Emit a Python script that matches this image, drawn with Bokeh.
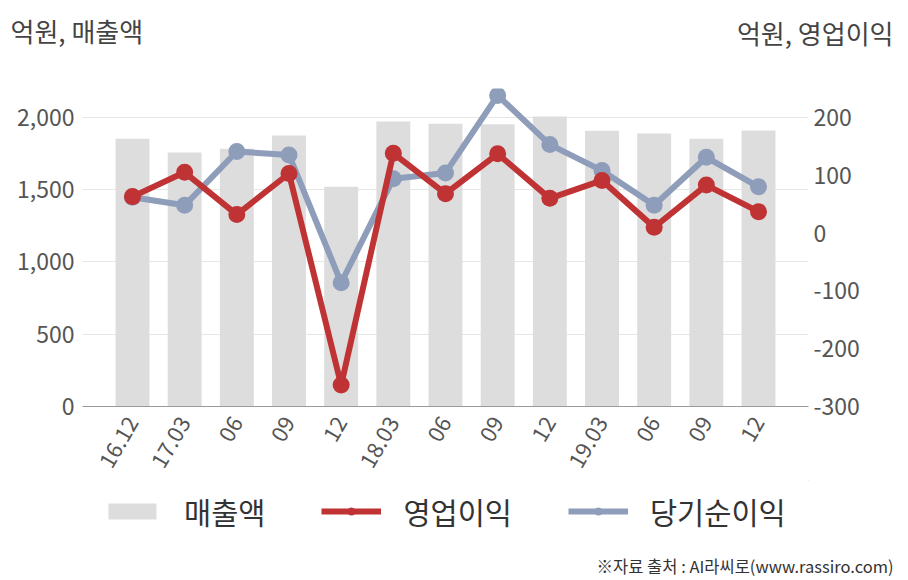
import math
from bokeh.plotting import figure
from bokeh.layouts import column
from bokeh.models import (Range1d, LinearAxis, FixedTicker, Label, Legend, LegendItem,
                          NumeralTickFormatter)
from bokeh.embed import file_html
from bokeh.resources import INLINE

# ---- data ----
periods = ["16.12", "17.03", "06", "09", "12", "18.03", "06", "09", "12", "19.03", "06", "09", "12"]
revenue = [1853, 1758, 1783, 1875, 1520, 1972, 1956, 1952, 2007, 1908, 1889, 1853, 1910]
op_profit = [63, 105, 32, 103, -263, 138, 68, 137, 60, 91, 10, 83, 37]
net_profit = [62, 48, 141, 135, -86, 94, 104, 238, 153, 108, 48, 131, 80]
left_ticks = [0, 500, 1000, 1500, 2000]
right_ticks = [-300, -200, -100, 0, 100, 200]
series_names = ["매출액", "영업이익", "당기순이익"]

idx = list(range(len(periods)))

FONT = "Noto Sans CJK KR"
RED = "#C03334"
BLUE = "#8E9DBA"
BAR = "#DDDDDD"
TXT = "#555555"

# ---------------- main chart ----------------
p = figure(width=908, height=480, output_backend="svg", toolbar_location=None,
           x_range=Range1d(-0.958, 12.958), y_range=Range1d(0, 2200),
           min_border_left=82, min_border_right=100, min_border_top=88, min_border_bottom=74)
p.extra_y_ranges = {"right": Range1d(-300, 250)}
p.outline_line_color = None

p.xgrid.visible = False
p.ygrid.grid_line_color = "#E6E6E6"
p.ygrid.ticker = FixedTicker(ticks=left_ticks)

ya = p.yaxis[0]
ya.ticker = FixedTicker(ticks=left_ticks)
ya.formatter = NumeralTickFormatter(format="0,0")
ya.axis_line_color = None
ya.major_tick_line_color = None
ya.minor_tick_line_color = None
ya.major_tick_out = 0
ya.minor_tick_out = 0
ya.major_label_text_font_size = "23px"
ya.major_label_text_color = TXT
ya.major_label_text_font = FONT
ya.major_label_standoff = 8

ra = LinearAxis(y_range_name="right", ticker=FixedTicker(ticks=right_ticks))
ra.major_label_overrides = {t: str(t) for t in right_ticks}
ra.axis_line_color = None
ra.major_tick_line_color = None
ra.minor_tick_line_color = None
ra.major_tick_out = 0
ra.minor_tick_out = 0
ra.major_label_text_font_size = "23px"
ra.major_label_text_color = TXT
ra.major_label_text_font = FONT
ra.major_label_standoff = 5
p.add_layout(ra, "right")

xa = p.xaxis[0]
xa.ticker = FixedTicker(ticks=idx)
xa.major_label_overrides = {i: s for i, s in zip(idx, periods)}
xa.major_label_orientation = math.pi / 3
xa.axis_line_color = "#9A9A9A"
xa.axis_line_width = 1
xa.major_tick_line_color = None
xa.minor_tick_line_color = None
xa.major_tick_out = 0
xa.minor_tick_out = 0
xa.major_label_text_font_size = "22px"
xa.major_label_text_color = TXT
xa.major_label_text_font = FONT
xa.major_label_standoff = 12

bars = p.vbar(x=idx, top=revenue, bottom=0, width=0.65, fill_color=BAR, line_color=None)
bl = p.line(idx, net_profit, y_range_name="right", line_width=6, line_color=BLUE)
bs = p.scatter(idx, net_profit, y_range_name="right", size=17, fill_color=BLUE, line_color=None)
rl = p.line(idx, op_profit, y_range_name="right", line_width=6, line_color=RED)
rs = p.scatter(idx, op_profit, y_range_name="right", size=17, fill_color=RED, line_color=None)

p.add_layout(Label(x=-72, y=58, x_units="screen", y_units="screen", text="억원, 매출액",
                   text_font_size="26px", text_baseline="middle", text_align="left",
                   text_color="#444444", text_font=FONT), "above")
p.add_layout(Label(x=811, y=19, x_units="screen", y_units="screen", text="억원, 영업이익",
                   text_font_size="26px", text_baseline="middle", text_align="right",
                   text_color="#444444", text_font=FONT), "above")

# ---------------- footer: legend + source ----------------
# legend proxies reuse the series, but the footer's ranges keep them out of view
f = figure(width=908, height=100, output_backend="svg", toolbar_location=None,
           x_range=Range1d(-2, -1), y_range=Range1d(-2, -1),
           min_border_left=82, min_border_right=100, min_border_top=0, min_border_bottom=40,
           x_axis_location=None, y_axis_location=None)
f.grid.visible = False
f.outline_line_color = None

k_bar = f.vbar(x=idx, top=revenue, bottom=0, width=0.65, fill_color=BAR, line_color=None)
k_rl = f.line(idx, op_profit, line_width=6, line_color=RED)
k_rs = f.scatter(idx, op_profit, size=17, fill_color=RED, line_color=None)
k_bl = f.line(idx, net_profit, line_width=6, line_color=BLUE)
k_bs = f.scatter(idx, net_profit, size=17, fill_color=BLUE, line_color=None)

legend = Legend(items=[LegendItem(label=series_names[0], renderers=[k_bar]),
                       LegendItem(label=series_names[1], renderers=[k_rl, k_rs]),
                       LegendItem(label=series_names[2], renderers=[k_bl, k_bs])],
                orientation="horizontal", location=(20, 8),
                glyph_width=60, glyph_height=20, label_standoff=22, spacing=56,
                padding=0, margin=0, border_line_color=None, background_fill_alpha=0,
                label_text_font_size="29.5px", label_text_color="#333333", label_text_font=FONT)
f.add_layout(legend, "center")

f.add_layout(Label(x=811, y=-1, x_units="screen", y_units="screen",
                   text="※자료 출처 : AI라씨로(www.rassiro.com)",
                   text_font_size="16.5px", text_baseline="middle", text_align="right",
                   text_color="#333333", text_font=FONT), "below")

open("out.html", "w").write(file_html(column(p, f, spacing=0), INLINE))
